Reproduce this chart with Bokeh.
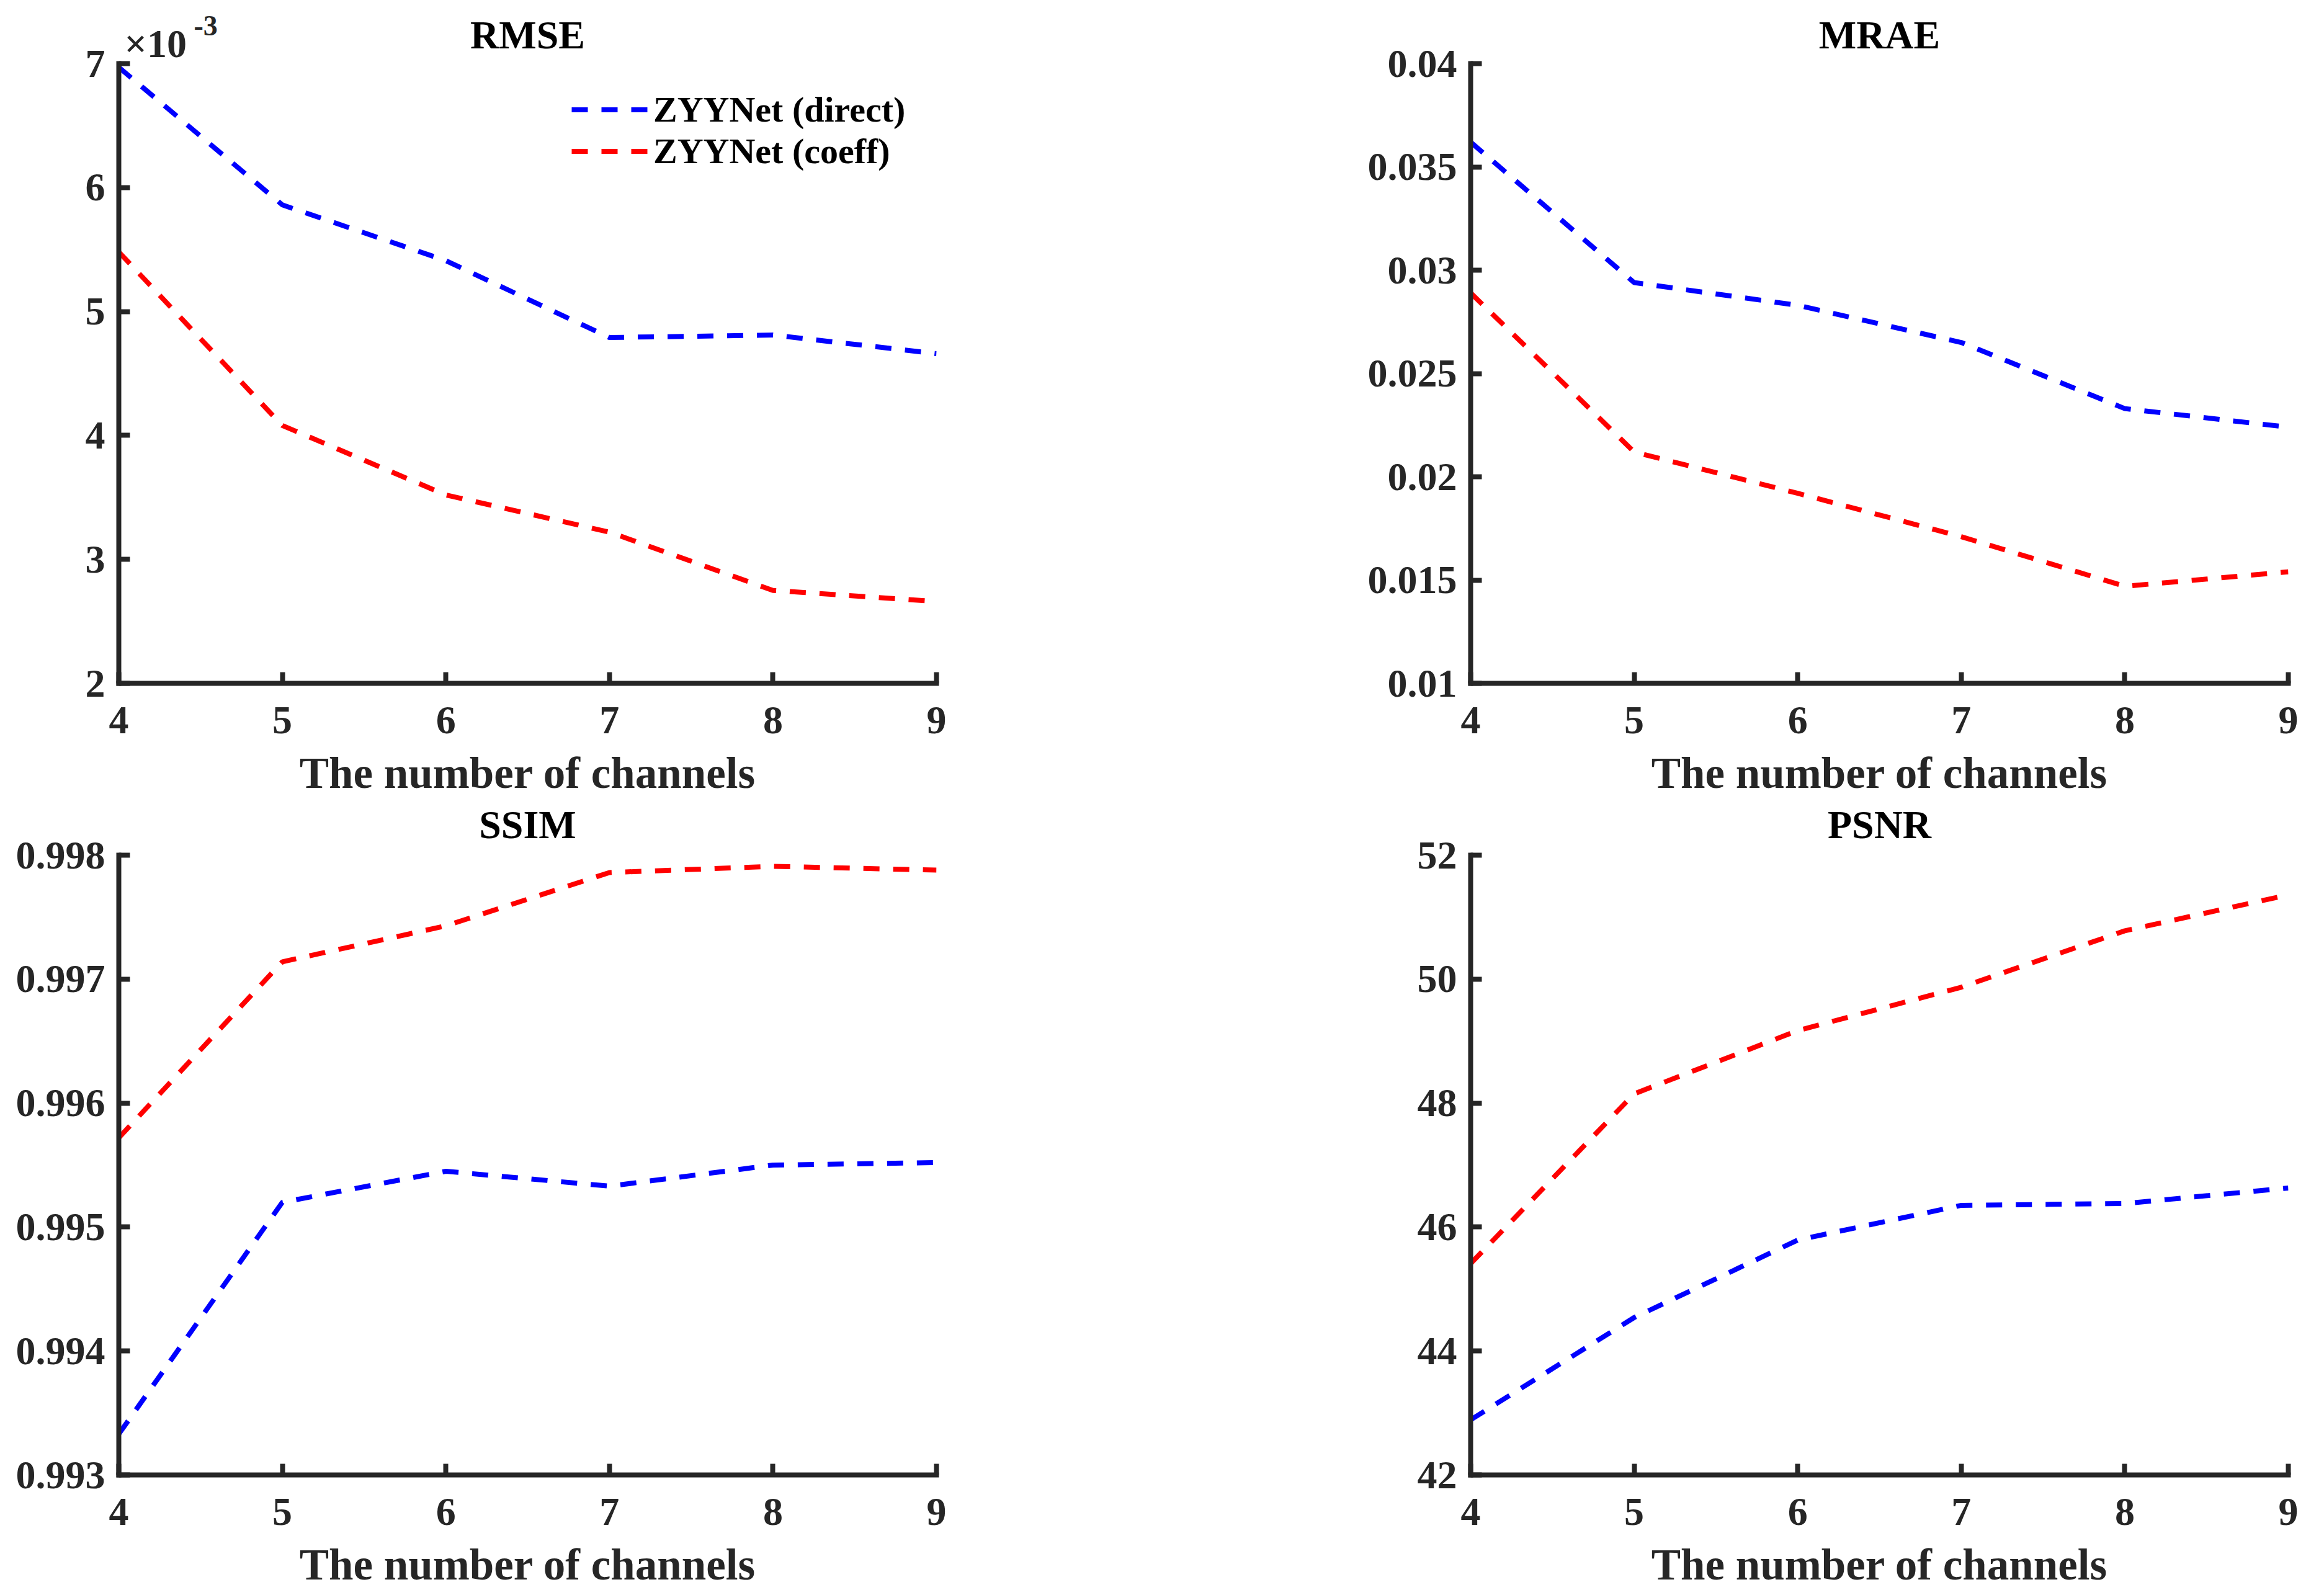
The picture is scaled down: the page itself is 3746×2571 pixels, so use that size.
from bokeh.plotting import figure
from bokeh.layouts import gridplot
from bokeh.models import (Range1d, FixedTicker, CustomJSTickFormatter, Label,
                          Legend, LegendItem)
from bokeh.embed import file_html
from bokeh.resources import INLINE

# ---------------- data ----------------
channels = [4, 5, 6, 7, 8, 9]
x_ticks = [4, 5, 6, 7, 8, 9]

rmse_direct = [6.97e-3, 5.86e-3, 5.41e-3, 4.79e-3, 4.81e-3, 4.66e-3]
rmse_coeff = [5.48e-3, 4.08e-3, 3.52e-3, 3.22e-3, 2.75e-3, 2.66e-3]
rmse_ticks = [2e-3, 3e-3, 4e-3, 5e-3, 6e-3, 7e-3]

mrae_direct = [0.0362, 0.0294, 0.0283, 0.0265, 0.0233, 0.0224]
mrae_coeff = [0.0289, 0.0212, 0.0192, 0.0171, 0.0147, 0.0154]
mrae_ticks = [0.01, 0.015, 0.02, 0.025, 0.03, 0.035, 0.04]

ssim_direct = [0.99333, 0.99520, 0.99545, 0.99533, 0.99550, 0.99552]
ssim_coeff = [0.99572, 0.99714, 0.99743, 0.99786, 0.99791, 0.99788]
ssim_ticks = [0.993, 0.994, 0.995, 0.996, 0.997, 0.998]

psnr_direct = [42.89, 44.54, 45.79, 46.35, 46.38, 46.63]
psnr_coeff = [45.41, 48.15, 49.17, 49.87, 50.78, 51.36]
psnr_ticks = [42, 44, 46, 48, 50, 52]

series_labels = ["ZYYNet (direct)", "ZYYNet (coeff)"]
titles = ["RMSE", "MRAE", "SSIM", "PSNR"]
x_label = "The number of channels"
multiplier = ["\u00d710", "-3"]

# ---------------- style ----------------
FONT = "Liberation Serif"
AX = "#262626"
FW, FH = 1318, 999
LINE_W = 8
DASH = "26 22"
EXT_TOP = 92      # room inside the frame above the data area (top row)
EXT_BOT = 91      # same for the bottom row
B_TOP_ROW = 186

fmt_plain = "return parseFloat(tick.toFixed(6)).toString();"
fmt_milli = "return String(Math.round(tick*1000));"


def make_fig(title, yticks, fmt, left, right, top, bottom, ext, title_off):
    span = yticks[-1] - yticks[0]
    y_end = yticks[-1] + ext * span / FH
    p = figure(frame_width=FW, frame_height=FH + ext,
               min_border_left=left, min_border_right=right,
               min_border_top=top, min_border_bottom=bottom,
               x_range=Range1d(channels[0], channels[-1]),
               y_range=Range1d(yticks[0], y_end),
               output_backend="svg", toolbar_location=None)
    p.outline_line_color = None
    p.xgrid.visible = False
    p.ygrid.visible = False
    p.background_fill_color = "white"
    p.border_fill_color = "white"

    for ax in (p.xaxis[0], p.yaxis[0]):
        ax.axis_line_width = LINE_W
        ax.axis_line_color = AX
        ax.axis_line_cap = "square"
        ax.major_tick_line_width = LINE_W
        ax.major_tick_line_color = AX
        ax.major_tick_in = 18
        ax.major_tick_out = 0
        ax.minor_tick_line_color = None
        ax.major_label_text_font = FONT
        ax.major_label_text_font_style = "bold"
        ax.major_label_text_font_size = "64px"
        ax.major_label_text_color = AX
    p.yaxis.major_label_standoff = 22
    p.xaxis.major_label_standoff = 38
    p.yaxis.bounds = (yticks[0], yticks[-1])

    p.xaxis.ticker = FixedTicker(ticks=x_ticks)
    p.yaxis.ticker = FixedTicker(ticks=yticks)
    p.yaxis.formatter = CustomJSTickFormatter(code=fmt)
    p.xaxis.axis_label = x_label
    p.xaxis.axis_label_text_font = FONT
    p.xaxis.axis_label_text_font_style = "bold"
    p.xaxis.axis_label_text_font_size = "71px"
    p.xaxis.axis_label_text_color = AX
    p.xaxis.axis_label_standoff = 22

    p.add_layout(Label(x=(channels[0] + channels[-1]) / 2, y=yticks[-1],
                       y_offset=title_off, text=title, text_align="center",
                       text_baseline="alphabetic", text_font=FONT,
                       text_font_style="bold", text_font_size="64px",
                       text_color="black"))
    return p


def add_lines(p, direct, coeff):
    r1 = p.line(channels, direct, line_color="#0000ff", line_width=LINE_W,
                line_dash=DASH)
    r2 = p.line(channels, coeff, line_color="#ff0000", line_width=LINE_W,
                line_dash=DASH)
    return r1, r2


f1 = make_fig(titles[0], rmse_ticks, fmt_milli, 191, 100, 102 - EXT_TOP, B_TOP_ROW, EXT_TOP, 46)
f2 = make_fig(titles[1], mrae_ticks, fmt_plain, 761, 40, 102 - EXT_TOP, B_TOP_ROW, EXT_TOP, 46)
f3 = make_fig(titles[2], ssim_ticks, fmt_plain, 191, 100, 0, 190, EXT_BOT, 49)
f4 = make_fig(titles[3], psnr_ticks, fmt_plain, 761, 40, 0, 190, EXT_BOT, 49)

r1, r2 = add_lines(f1, rmse_direct, rmse_coeff)
add_lines(f2, mrae_direct, mrae_coeff)
add_lines(f3, ssim_direct, ssim_coeff)
add_lines(f4, psnr_direct, psnr_coeff)

legend = Legend(items=[LegendItem(label=series_labels[0], renderers=[r1]),
                       LegendItem(label=series_labels[1], renderers=[r2])],
                location=(730, 824),
                label_text_font=FONT, label_text_font_style="bold",
                label_text_font_size="58px", label_text_color="black",
                glyph_width=123, glyph_height=67, label_height=67,
                label_standoff=9, spacing=0, padding=0, margin=0,
                border_line_color=None, background_fill_alpha=0)
f1.add_layout(legend)

# axis multiplier x10^-3 (above the top of the y axis)
f1.add_layout(Label(x=channels[0], y=rmse_ticks[-1], x_offset=9, y_offset=32,
                    text=multiplier[0], text_font=FONT, text_font_style="bold",
                    text_font_size="64px", text_color=AX,
                    text_baseline="alphabetic"))
f1.add_layout(Label(x=channels[0], y=rmse_ticks[-1], x_offset=121, y_offset=61,
                    text=multiplier[1], text_font=FONT, text_font_style="bold",
                    text_font_size="46px", text_color=AX,
                    text_baseline="alphabetic"))

grid = gridplot([[f1, f2], [f3, f4]], toolbar_location=None)

open("out.html", "w").write(file_html(grid, INLINE))
